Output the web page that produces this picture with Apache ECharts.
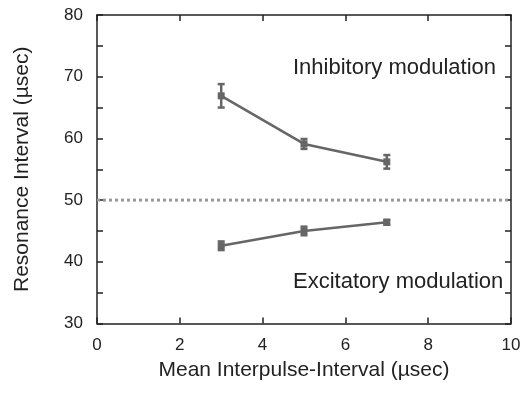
<!DOCTYPE html>
<html><head><meta charset="utf-8">
<script src="https://cdn.jsdelivr.net/npm/echarts@6/dist/echarts.min.js"></script>
<style>html,body{margin:0;padding:0;background:#fff}#c{width:532px;height:394px}</style>
</head><body><div id="c"></div>
<script>
const xValues = [3, 5, 7];
const inhibMean = [66.9, 59.1, 56.2];
const inhibErr = [1.9, 0.8, 1.1];
const excitMean = [42.6, 45.0, 46.4];
const excitErr = [0.7, 0.7, 0.4];
const baseline = 50;
const xTicks = [0, 2, 4, 6, 8, 10];
const yTicks = [30, 40, 50, 60, 70, 80];

const FONT = 'Liberation Sans, Arial, sans-serif';
const LC = '#666666';
const AX = '#222222';

function pts(m){ return xValues.map((x,i)=>[x,m[i]]); }
function errData(m,e){ return xValues.map((x,i)=>[x,m[i]-e[i],m[i]+e[i]]); }

function errRender(params, api){
  const x = api.value(0), lo = api.value(1), hi = api.value(2);
  const p1 = api.coord([x, lo]), p2 = api.coord([x, hi]);
  const w = 3.5;
  const st = {stroke: LC, lineWidth: 2.5};
  return {type:'group', children:[
    {type:'line', shape:{x1:p1[0],y1:p1[1],x2:p2[0],y2:p2[1]}, style:st},
    {type:'line', shape:{x1:p1[0]-w,y1:p1[1],x2:p1[0]+w,y2:p1[1]}, style:st},
    {type:'line', shape:{x1:p2[0]-w,y1:p2[1],x2:p2[0]+w,y2:p2[1]}, style:st}
  ]};
}

const chart = echarts.init(document.getElementById('c'), null, {renderer:'canvas'});
const axisCommon = {
  axisLine:{show:true, onZero:false, lineStyle:{color:AX, width:1.5}},
  splitLine:{show:false}
};
chart.setOption({
  animation:false,
  backgroundColor:'#fff',
  grid:{left:97, right:21, top:15, bottom:70.5, containLabel:false},
  xAxis:[
    Object.assign({type:'value', min:0, max:10, interval:2, position:'bottom',
      name:'Mean Interpulse-Interval (µsec)', nameLocation:'middle', nameGap:36,
      nameTextStyle:{fontFamily:FONT, fontSize:21, color:AX},
      axisTick:{show:true, inside:true, length:6, lineStyle:{color:AX, width:1.5}},
      axisLabel:{fontFamily:FONT, fontSize:17, color:AX, margin:13,
        formatter:v=>xTicks.includes(v)?String(v):''}
    }, axisCommon),
    Object.assign({type:'value', min:0, max:10, interval:2, position:'top',
      axisTick:{show:true, inside:true, length:6, lineStyle:{color:AX, width:1.5}},
      axisLabel:{show:false}
    }, axisCommon)
  ],
  yAxis:[
    Object.assign({type:'value', min:30, max:80, interval:5, position:'left',
      name:'Resonance Interval (µsec)', nameLocation:'middle', nameGap:64,
      nameTextStyle:{fontFamily:FONT, fontSize:21, color:AX},
      axisTick:{show:true, inside:true, length:6, lineStyle:{color:AX, width:1.5}},
      axisLabel:{fontFamily:FONT, fontSize:17, color:AX, margin:14,
        formatter:v=>yTicks.includes(v)?String(v):''}
    }, axisCommon),
    Object.assign({type:'value', min:30, max:80, interval:5, position:'right',
      axisTick:{show:true, inside:true, length:6, lineStyle:{color:AX, width:1.5}},
      axisLabel:{show:false}
    }, axisCommon)
  ],
  series:[
    {type:'line', data:[[0,baseline],[10,baseline]], symbol:'none',
      lineStyle:{color:'#999999', width:3, type:[3,3]}},
    {type:'line', data:pts(inhibMean), symbol:'rect', symbolSize:7,
      itemStyle:{color:LC}, lineStyle:{color:LC, width:2.5}, z:3},
    {type:'line', data:pts(excitMean), symbol:'rect', symbolSize:7,
      itemStyle:{color:LC}, lineStyle:{color:LC, width:2.5}, z:3},
    {type:'custom', data:errData(inhibMean,inhibErr), renderItem:errRender, z:4},
    {type:'custom', data:errData(excitMean,excitErr), renderItem:errRender, z:4}
  ],
  graphic:[
    {type:'text', left:293, top:57, style:{text:'Inhibitory modulation', font:'22px '+FONT, fill:AX}},
    {type:'text', left:293, top:271, style:{text:'Excitatory modulation', font:'22px '+FONT, fill:AX}}
  ]
});
</script></body></html>
